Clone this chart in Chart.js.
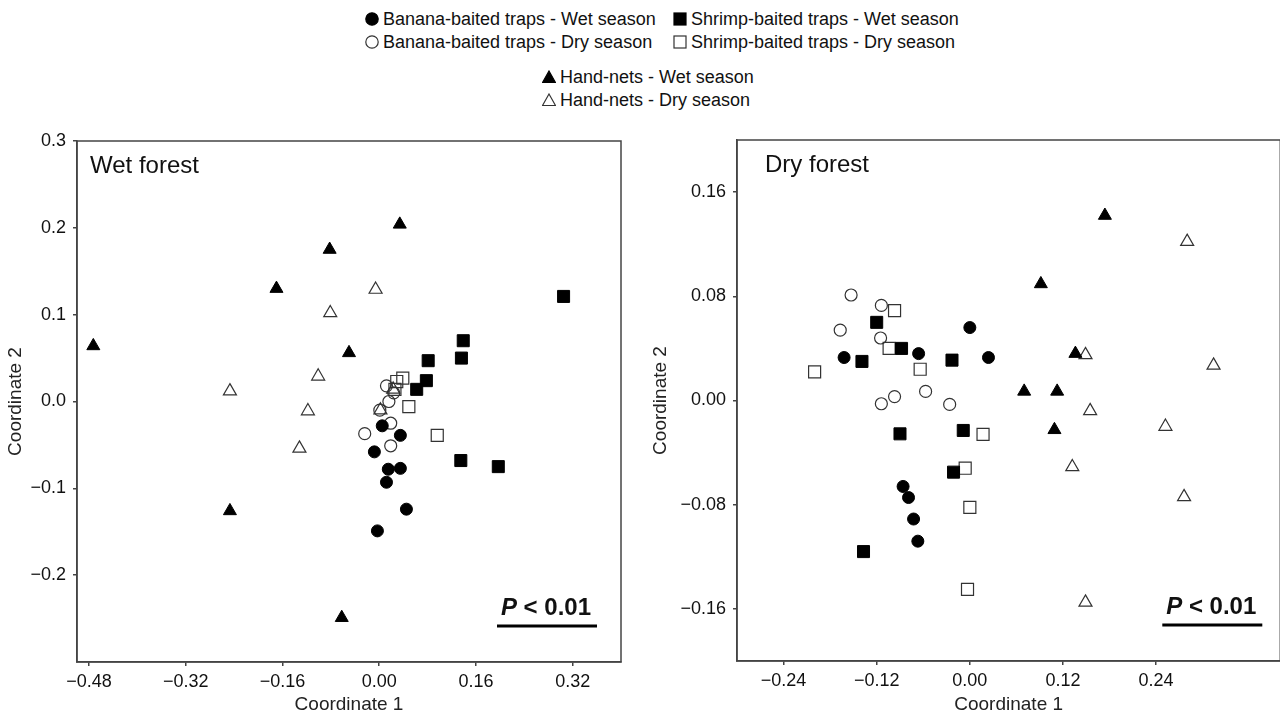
<!DOCTYPE html>
<html>
<head>
<meta charset="utf-8">
<script src="https://cdn.jsdelivr.net/npm/chart.js@4.4.0/dist/chart.umd.min.js"></script>
<style>
html,body{margin:0;padding:0;background:#fff;}
body{width:1280px;height:719px;position:relative;overflow:hidden;font-family:"Liberation Sans",Arial,sans-serif;color:#111;}
.box{position:absolute;top:0;width:640px;height:719px;}
.item{position:absolute;font-size:18px;line-height:20px;white-space:nowrap;display:flex;align-items:center;}
.item svg{margin-right:4px;}
</style>
</head>
<body>
<div id="legend"></div>
<div class="box" style="left:0"><canvas id="wetChart"></canvas></div>
<div class="box" style="left:640px;width:650px"><canvas id="dryChart"></canvas></div>
<script>
// series names
const seriesLabels = [
  "Banana-baited traps - Wet season",
  "Banana-baited traps - Dry season",
  "Shrimp-baited traps - Wet season",
  "Shrimp-baited traps - Dry season",
  "Hand-nets - Wet season",
  "Hand-nets - Dry season"
];

// wet forest [coord1, coord2]
const wetBananaWet = [[0.005,-0.028],[0.035,-0.039],[-0.008,-0.058],[0.015,-0.078],[0.035,-0.077],[0.012,-0.093],[0.045,-0.124],[-0.003,-0.149]];
const wetBananaDry = [[0.012,0.018],[0.016,0.000],[0.001,-0.010],[0.019,-0.025],[-0.024,-0.037],[0.019,-0.051],[0.024,0.010]];
const wetShrimpWet = [[0.305,0.121],[0.139,0.070],[0.136,0.050],[0.081,0.047],[0.078,0.024],[0.062,0.014],[0.135,-0.068],[0.197,-0.075]];
const wetShrimpDry = [[0.039,0.027],[0.029,0.023],[0.026,0.014],[0.049,-0.006],[0.096,-0.039]];
const wetHandWet = [[0.034,0.204],[-0.082,0.175],[-0.170,0.130],[-0.473,0.064],[-0.050,0.056],[-0.247,-0.126],[-0.062,-0.249]];
const wetHandDry = [[-0.006,0.129],[-0.081,0.102],[-0.101,0.029],[-0.247,0.012],[0.023,0.014],[-0.118,-0.011],[0.002,-0.010],[-0.132,-0.054]];

// dry forest
const dryBananaWet = [[0.000,0.056],[-0.066,0.036],[-0.162,0.033],[0.024,0.033],[-0.086,-0.066],[-0.079,-0.0745],[-0.0725,-0.091],[-0.067,-0.108]];
const dryBananaDry = [[-0.153,0.081],[-0.114,0.073],[-0.167,0.054],[-0.115,0.048],[-0.057,0.007],[-0.097,0.003],[-0.114,-0.0025],[-0.026,-0.003]];
const dryShrimpWet = [[-0.120,0.060],[-0.088,0.040],[-0.139,0.030],[-0.023,0.031],[-0.090,-0.0256],[-0.0085,-0.023],[-0.021,-0.055],[-0.137,-0.116]];
const dryShrimpDry = [[-0.097,0.069],[-0.104,0.040],[-0.200,0.022],[-0.064,0.024],[0.017,-0.026],[-0.006,-0.052],[0.000,-0.082],[-0.003,-0.145]];
const dryHandWet = [[0.174,0.142],[0.0915,0.0895],[0.136,0.036],[0.070,0.007],[0.1125,0.007],[0.109,-0.0225]];
const dryHandDry = [[0.280,0.122],[0.149,0.035],[0.314,0.027],[0.155,-0.008],[0.252,-0.020],[0.132,-0.051],[0.276,-0.074],[0.149,-0.155]];

// ticks
const wetXTicks = [-0.48,-0.32,-0.16,0,0.16,0.32];
const wetYTicks = [-0.2,-0.1,0,0.1,0.2,0.3];
const dryXTicks = [-0.24,-0.12,0,0.12,0.24];
const dryYTicks = [-0.16,-0.08,0,0.08,0.16];

const pText = "P < 0.01";

const styles = [
  {pointStyle:'circle', backgroundColor:'#000', borderColor:'#000', borderWidth:1, pointRadius:6},
  {pointStyle:'circle', backgroundColor:'rgba(0,0,0,0)', borderColor:'#333', borderWidth:1.2, pointRadius:6},
  {pointStyle:'rect', backgroundColor:'#000', borderColor:'#000', borderWidth:1, pointRadius:8.5},
  {pointStyle:'rect', backgroundColor:'rgba(0,0,0,0)', borderColor:'#333', borderWidth:1.2, pointRadius:8.5},
  {pointStyle:'triangle', backgroundColor:'#000', borderColor:'#000', borderWidth:1, pointRadius:7.5},
  {pointStyle:'triangle', backgroundColor:'rgba(0,0,0,0)', borderColor:'#333', borderWidth:1.2, pointRadius:7.5}
];

// legend (html)
const legendPos = [[365,19],[365,42],[673,19],[673,42],[542,77],[542,100]];
function markerSvg(i){
  const s = styles[i], fill = i%2===0 ? '#000' : 'none', st = i%2===0 ? '#000' : '#333';
  let shape;
  if (s.pointStyle==='circle') shape = `<circle cx="7" cy="7" r="6.2" fill="${fill}" stroke="${st}" stroke-width="1.2"/>`;
  else if (s.pointStyle==='rect') shape = `<rect x="1" y="1" width="12" height="12" fill="${fill}" stroke="${st}" stroke-width="1.2"/>`;
  else shape = `<polygon points="7,1 13.5,12.5 0.5,12.5" fill="${fill}" stroke="${st}" stroke-width="1.2"/>`;
  return `<svg width="14" height="14" viewBox="0 0 14 14">${shape}</svg>`;
}
document.getElementById('legend').innerHTML = seriesLabels.map((l,i)=>
  `<div class="item" style="left:${legendPos[i][0]}px;top:${legendPos[i][1]-10}px">${markerSvg(i)}<span>${l}</span></div>`).join('');

function fmt(v, d){ return (Math.abs(v)<1e-9 ? 0 : v).toFixed(d).replace('-', '\u2212'); }

const framePlugin = {
  id:'frame',
  afterDraw(chart, args, o){
    const {ctx, chartArea:a} = chart;
    ctx.save();
    ctx.strokeStyle = '#444'; ctx.lineWidth = 1.5;
    ctx.strokeRect(a.left, a.top, a.right-a.left, a.bottom-a.top);
    // panel title
    ctx.fillStyle = '#111';
    ctx.font = '24px "Liberation Sans", Arial, sans-serif';
    ctx.textBaseline = 'alphabetic';
    ctx.fillText(o.title, a.left + o.titleDx, a.top + 32);
    // P value
    ctx.font = 'italic bold 24px "Liberation Sans", Arial, sans-serif';
    const p = 'P';
    const wp = ctx.measureText(p).width;
    ctx.font = 'bold 24px "Liberation Sans", Arial, sans-serif';
    const rest = pText.slice(1);
    const wr = ctx.measureText(rest).width;
    const x0 = a.right - o.pRight - wp - wr, yb = a.bottom - 47;
    ctx.font = 'italic bold 24px "Liberation Sans", Arial, sans-serif';
    ctx.fillText(p, x0, yb);
    ctx.font = 'bold 24px "Liberation Sans", Arial, sans-serif';
    ctx.fillText(rest, x0 + wp, yb);
    ctx.fillStyle = '#000';
    ctx.fillRect(a.right - o.lineRight - 100, a.bottom - 37.5, 100, 3);
    ctx.restore();
  }
};

function makeChart(id, series, c){
  const tickFont = {family:'"Liberation Sans", Arial, sans-serif', size:18};
  const titleFont = {family:'"Liberation Sans", Arial, sans-serif', size:19};
  return new Chart(document.getElementById(id), {
    type:'scatter',
    data:{datasets: series.map((s,i)=>Object.assign({label:seriesLabels[i], data:s.map(p=>({x:p[0],y:p[1]}))}, styles[i]))},
    options:{
      responsive:true, maintainAspectRatio:false, animation:false,
      layout:{padding:{top:c.top, right:c.padRight, left:c.padLeft, bottom:0}},
      plugins:{legend:{display:false}, tooltip:{enabled:false},
        frame:{title:c.title, titleDx:c.titleDx, pRight:c.pRight, lineRight:c.lineRight}},
      scales:{
        x:{type:'linear', min:c.xMin, max:c.xMax,
          afterBuildTicks:s=>{s.ticks = c.xTicks.map(v=>({value:v}));},
          afterFit:s=>{s.height = c.xHeight;},
          ticks:{font:tickFont, color:'#111', padding:5, maxRotation:0, callback:v=>fmt(v,2)},
          grid:{drawOnChartArea:false, tickLength:4, color:'#444', lineWidth:1.5},
          border:{color:'#444', width:1.5},
          title:{display:true, text:'Coordinate 1', font:titleFont, color:'#222', padding:{top:0,bottom:3}}},
        y:{type:'linear', min:c.yMin, max:c.yMax,
          afterBuildTicks:s=>{s.ticks = c.yTicks.map(v=>({value:v}));},
          afterFit:s=>{s.width = c.yWidth;},
          ticks:{font:tickFont, color:'#111', padding:7, callback:v=>fmt(v,c.yDec)},
          grid:{drawOnChartArea:false, tickLength:4, color:'#444', lineWidth:1.5},
          border:{color:'#444', width:1.5},
          title:{display:true, text:'Coordinate 2', font:titleFont, color:'#222', padding:{top:4,bottom:4}}}
      }
    },
    plugins:[framePlugin]
  });
}

makeChart('wetChart', [wetBananaWet, wetBananaDry, wetShrimpWet, wetShrimpDry, wetHandWet, wetHandDry], {
  xMin:-0.5, xMax:0.4, yMin:-0.3, yMax:0.3, xTicks:wetXTicks, yTicks:wetYTicks, yDec:1,
  top:141, padLeft:0, padRight:19, yWidth:77, xHeight:57,
  title:'Wet forest', titleDx:13, pRight:30, lineRight:24
});
makeChart('dryChart', [dryBananaWet, dryBananaDry, dryShrimpWet, dryShrimpDry, dryHandWet, dryHandDry], {
  xMin:-0.3, xMax:0.4, yMin:-0.2, yMax:0.2, xTicks:dryXTicks, yTicks:dryYTicks, yDec:2,
  top:140, padLeft:5, padRight:8, yWidth:92, xHeight:58,
  title:'Dry forest', titleDx:28, pRight:24, lineRight:18
});
</script>
</body>
</html>
